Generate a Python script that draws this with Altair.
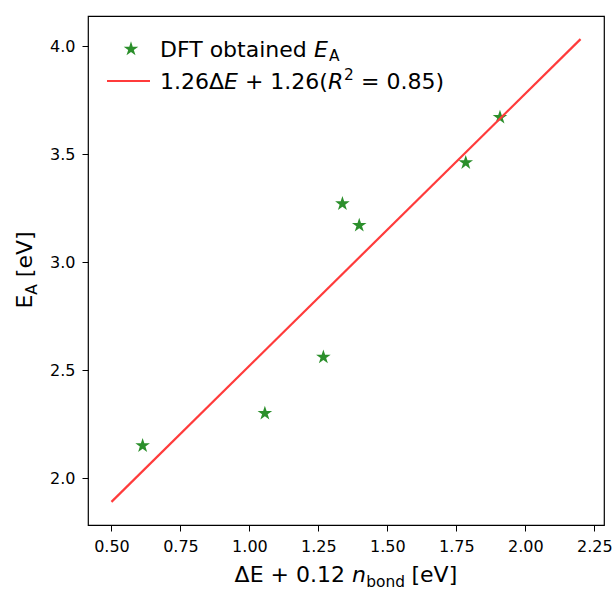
import altair as alt
import pandas as pd

# ---- data ----
x_vals = [0.613, 1.056, 1.268, 1.337, 1.398, 1.784, 1.908]
y_vals = [2.15, 2.30, 2.56, 3.27, 3.17, 3.46, 3.67]
fit_slope = 1.26
fit_intercept = 1.26
fit_x = [0.5, 2.2]
x_ticks = [0.5, 0.75, 1.0, 1.25, 1.5, 1.75, 2.0, 2.25]
y_ticks = [2.0, 2.5, 3.0, 3.5, 4.0]

FONT = "DejaVu Sans"
GREEN = "#2b8f2b"
RED = "#ff3b3b"
STAR = ("M0,-1L0.2245,-0.309L0.9511,-0.309L0.3633,0.118L0.5878,0.809L0,0.382"
        "L-0.5878,0.809L-0.3633,0.118L-0.9511,-0.309L-0.2245,-0.309Z")

W, H = 516, 509

pts = pd.DataFrame({"x": x_vals, "y": y_vals})
line = pd.DataFrame({"x": fit_x, "y": [fit_slope * v + fit_intercept for v in fit_x]})

xscale = alt.Scale(domain=[0.415, 2.285], nice=False, zero=False)
yscale = alt.Scale(domain=[1.783, 4.139], nice=False, zero=False)

xaxis = alt.Axis(values=x_ticks, format=".2f", title=None, grid=False, domain=False,
                 labelFontSize=16, labelFont=FONT, labelColor="black",
                 tickColor="black", tickSize=6, tickWidth=1, labelPadding=7)
yaxis = alt.Axis(values=y_ticks, format=".1f", title=None, grid=False, domain=False,
                 labelFontSize=16, labelFont=FONT, labelColor="black",
                 tickColor="black", tickSize=6, tickWidth=1, labelPadding=7)

stars = alt.Chart(pts).mark_point(shape=STAR, filled=True, size=235, color=GREEN, opacity=1).encode(
    x=alt.X("x:Q", scale=xscale, axis=xaxis),
    y=alt.Y("y:Q", scale=yscale, axis=yaxis),
)
fit = alt.Chart(line).mark_line(color=RED, strokeWidth=2.2).encode(
    x=alt.X("x:Q", scale=xscale, axis=xaxis),
    y=alt.Y("y:Q", scale=yscale, axis=yaxis),
)


def txt(s, x, y, size=22, style="normal", angle=0):
    kw = dict(align="left", baseline="alphabetic", fontSize=size, font=FONT,
              color="black", fontStyle=style)
    if angle:
        kw["angle"] = angle
    return alt.Chart(pd.DataFrame({"t": [s]})).mark_text(**kw).encode(
        x=alt.value(x), y=alt.value(y), text="t:N")


one = pd.DataFrame({"a": [0]})
leg_star = alt.Chart(one).mark_point(shape=STAR, filled=True, size=235, color=GREEN, opacity=1).encode(
    x=alt.value(43), y=alt.value(33))
leg_line = alt.Chart(one).mark_rule(color=RED, strokeWidth=2.2).encode(
    x=alt.value(19), x2=alt.value(62), y=alt.value(65))

texts = [
    # legend line 1
    txt("DFT obtained", 72, 41),
    txt("E", 226.1, 41, style="italic"),
    txt("A", 241.0, 45, size=15.4),
    # legend line 2
    txt("1.26Δ", 72, 73),
    txt("E", 136.0, 73, style="italic"),
    txt("+ 1.26(", 156.9, 73),
    txt("R", 239.9, 73, style="italic"),
    txt("2", 256.0, 64, size=15.4),
    txt("= 0.85)", 273.0, 73),
    # x title
    txt("ΔE + 0.12", 146.6, 566),
    txt("n", 263.9, 566, style="italic"),
    txt("bond", 278.3, 571, size=15.4),
    txt("[eV]", 323.5, 566),
    # y title
    txt("E", -56, 292.6, angle=270),
    txt("A", -51.5, 278.7, size=15.4, angle=270),
    txt("[eV]", -56, 261.2, angle=270),
]

chart = alt.layer(stars, fit, leg_star, leg_line, *texts).properties(
    width=W, height=H,
    autosize=alt.AutoSizeParams(type="none"),
    padding={"left": 88, "top": 16, "right": 11, "bottom": 65},
    background="white",
).configure_view(stroke="black", strokeWidth=1.2)

chart.save("out.html", embed_options={"renderer": "svg", "actions": False})
